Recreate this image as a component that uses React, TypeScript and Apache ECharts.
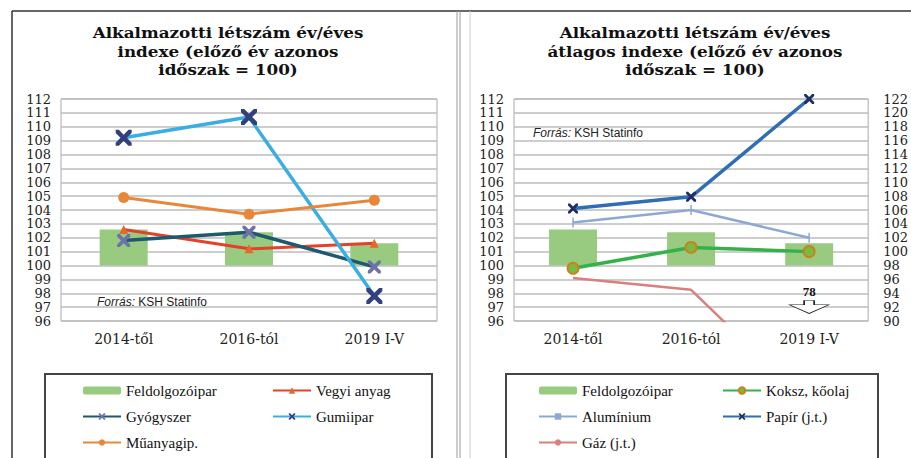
import React, { useEffect, useRef } from "react";
import * as echarts from "echarts";

const categories = ["2014-től", "2016-tól", "2019 I-V"];
const leftTicks = { min: 96, max: 112, interval: 1 };
const rightTicks = { min: 90, max: 122, interval: 2 };

// left chart
const feldolgozo = [102.6, 102.4, 101.6];
const vegyi = [102.6, 101.2, 101.6];
const gyogyszer = [101.8, 102.4, 99.9];
const gumi = [109.2, 110.7, 97.8];
const muanyag = [104.9, 103.7, 104.7];
// right chart
const koksz = [99.8, 101.3, 101.0];
const aluminium = [103.1, 104.0, 102.0];
const papir = [106.2, 107.9, 122.0]; // right axis
const gaz = [96.2, 94.5, 78]; // right axis
const gazLastLabel = "78";

const barBase = 100;

const titleLeft = "Alkalmazotti létszám év/éves\nindexe (előző év azonos\nidőszak = 100)";
const titleRight = "Alkalmazotti létszám év/éves\nátlagos indexe (előző év azonos\nidőszak = 100)";

const X_PATH =
  "path://M0,0 L2,0 L5,3 L8,0 L10,0 L10,2 L7,5 L10,8 L10,10 L8,10 L5,7 L2,10 L0,10 L0,8 L3,5 L0,2 Z";
const ARROW_PATH = "path://M14.5,0 L24.5,0 L24.5,4 L39,4 L19.5,12 L0,4 L14.5,4 Z";

export default function App() {
  const ref = useRef<HTMLDivElement>(null);
  useEffect(() => {
    document.body.style.margin = "0";
    const chart = echarts.init(ref.current!, null, { renderer: "svg" });

    const yLabel = {
      fontFamily: "DejaVu Serif", fontSize: 13, lineHeight: 13, color: "#222",
      showMinLabel: true, showMaxLabel: true, hideOverlap: false,
    };
    const xLabel = { fontFamily: "DejaVu Serif", fontSize: 14, color: "#222", margin: 11 };
    const split = { show: true, lineStyle: { color: "#bdbdbd", width: 1.5 } };

    const legendCommon = {
      orient: "vertical" as const,
      itemWidth: 38,
      itemHeight: 8,
      itemGap: 9,
      height: 90,
      selectedMode: false,
      textStyle: { fontFamily: "Liberation Serif", fontSize: 15, color: "#111", lineHeight: 17 },
    };

    const barSeries = (xi: number, yi: number, stack: string, baseName: string) => [
      {
        name: baseName,
        type: "bar",
        xAxisIndex: xi,
        yAxisIndex: yi,
        stack,
        barWidth: 48,
        itemStyle: { color: "transparent" },
        data: feldolgozo.map(() => barBase),
        silent: true,
      },
      {
        name: "Feldolgozóipar",
        type: "bar",
        xAxisIndex: xi,
        yAxisIndex: yi,
        stack,
        barWidth: 48,
        itemStyle: { color: "#98cb80" },
        data: feldolgozo.map((v) => +(v - barBase).toFixed(2)),
      },
    ];

    const option: any = {
      animation: false,
      backgroundColor: "#fff",
      grid: [
        { left: 61, right: 474, top: 99, bottom: 137, show: true, borderColor: "#aaa", borderWidth: 1 },
        { left: 514, right: 38, top: 99, bottom: 137, show: true, borderColor: "#aaa", borderWidth: 1 },
      ],
      xAxis: [0, 1].map((g) => ({
        type: "category",
        gridIndex: g,
        data: categories,
        axisLine: { show: false },
        axisTick: { show: false },
        axisLabel: xLabel,
      })),
      yAxis: [
        {
          type: "value", gridIndex: 0, ...leftTicks,
          axisLabel: { ...yLabel, margin: 10 }, splitLine: split,
          axisLine: { show: false }, axisTick: { show: false },
        },
        {
          type: "value", gridIndex: 1, ...leftTicks,
          axisLabel: { ...yLabel, margin: 10 }, splitLine: split,
          axisLine: { show: false }, axisTick: { show: false },
        },
        {
          type: "value", gridIndex: 1, position: "right", ...rightTicks,
          axisLabel: { ...yLabel, margin: 15 }, splitLine: { show: false },
          axisLine: { show: false }, axisTick: { show: false },
        },
      ],
      legend: [
        { ...legendCommon, left: 77, top: 377, data: ["Feldolgozóipar", "Gyógyszer", "Műanyagip."] },
        { ...legendCommon, left: 267, top: 377, data: ["Vegyi anyag", "Gumiipar"] },
        { ...legendCommon, left: 533, top: 377, data: ["Feldolgozóipar", "Alumínium", "Gáz (j.t.)"] },
        { ...legendCommon, left: 717, top: 377, data: ["Koksz, kőolaj", "Papír (j.t.)"] },
      ],
      series: [
        ...barSeries(0, 0, "L", "baseL"),
        {
          name: "Vegyi anyag", type: "line", xAxisIndex: 0, yAxisIndex: 0, data: vegyi,
          lineStyle: { color: "#e5402a", width: 3 }, itemStyle: { color: "#e3692c" },
          symbol: "triangle", symbolSize: 9,
        },
        {
          name: "Gyógyszer", type: "line", xAxisIndex: 0, yAxisIndex: 0, data: gyogyszer,
          lineStyle: { color: "#1e5a6e", width: 3.5 }, itemStyle: { color: "#6f72a8" },
          symbol: X_PATH, symbolSize: 13,
        },
        {
          name: "Gumiipar", type: "line", xAxisIndex: 0, yAxisIndex: 0, data: gumi,
          lineStyle: { color: "#3aaee2", width: 3.5 }, itemStyle: { color: "#33407e" },
          symbol: X_PATH, symbolSize: 16,
        },
        {
          name: "Műanyagip.", type: "line", xAxisIndex: 0, yAxisIndex: 0, data: muanyag,
          lineStyle: { color: "#e8873a", width: 3 }, itemStyle: { color: "#e8873a" },
          symbol: "circle", symbolSize: 11,
        },
        ...barSeries(1, 1, "R", "baseR"),
        {
          name: "Koksz, kőolaj", type: "line", xAxisIndex: 1, yAxisIndex: 1, data: koksz,
          lineStyle: { color: "#33b24c", width: 3.5 },
          itemStyle: { color: "#7bb845", borderColor: "#c9821c", borderWidth: 2 },
          symbol: "circle", symbolSize: 11,
        },
        {
          name: "Alumínium", type: "line", xAxisIndex: 1, yAxisIndex: 1, data: aluminium,
          lineStyle: { color: "#8ea8d6", width: 2.5 }, itemStyle: { color: "#8ea8d6" },
          symbol: "rect", symbolSize: [1.5, 10],
        },
        {
          name: "Papír (j.t.)", type: "line", xAxisIndex: 1, yAxisIndex: 2, data: papir,
          lineStyle: { color: "#2f6db5", width: 3.5 }, itemStyle: { color: "#1f2f66" },
          symbol: X_PATH, symbolSize: 10,
        },
        {
          name: "Gáz (j.t.)", type: "line", xAxisIndex: 1, yAxisIndex: 2, data: gaz,
          lineStyle: { color: "#d9807c", width: 2.5 }, itemStyle: { color: "#d9807c" },
          showSymbol: false, symbol: "none", clip: true,
          markPoint: {
            symbol: ARROW_PATH,
            symbolSize: [39, 13],
            symbolOffset: [0, -14],
            itemStyle: { color: "#fff", borderColor: "#222", borderWidth: 1 },
            label: {
              show: true, position: "top", distance: 2, formatter: gazLastLabel,
              fontFamily: "Liberation Serif", fontWeight: "bold", fontSize: 13, color: "#111",
            },
            data: [{ coord: [2, rightTicks.min], value: 78 }],
          },
        },
      ],
      graphic: [
        // panel frames
        { type: "line", shape: { x1: 12, y1: 11, x2: 911, y2: 11 }, style: { stroke: "#333", lineWidth: 1.5 } },
        { type: "line", shape: { x1: 12, y1: 11, x2: 12, y2: 458 }, style: { stroke: "#333", lineWidth: 1.5 } },
        { type: "line", shape: { x1: 457, y1: 11, x2: 457, y2: 458 }, style: { stroke: "#999", lineWidth: 1 } },
        { type: "line", shape: { x1: 460, y1: 11, x2: 460, y2: 458 }, style: { stroke: "#999", lineWidth: 1 } },
        { type: "line", shape: { x1: 470, y1: 11, x2: 470, y2: 458 }, style: { stroke: "#ccc", lineWidth: 1 } },
        // legend boxes
        { type: "rect", shape: { x: 45, y: 374, width: 387, height: 100 }, style: { fill: "#fff", stroke: "#444", lineWidth: 2 } },
        { type: "rect", shape: { x: 506, y: 374, width: 372, height: 100 }, style: { fill: "#fff", stroke: "#444", lineWidth: 2 } },
        // titles
        {
          type: "text", x: 228, y: 24, scaleX: 1.12,
          style: {
            text: titleLeft, align: "center", verticalAlign: "top",
            font: "bold 15px 'DejaVu Serif'", lineHeight: 18.5, fill: "#111",
          },
        },
        {
          type: "text", x: 695, y: 24, scaleX: 1.12,
          style: {
            text: titleRight, align: "center", verticalAlign: "top",
            font: "bold 15px 'DejaVu Serif'", lineHeight: 18.5, fill: "#111",
          },
        },
        // sources
        {
          type: "text", x: 97, y: 302, z: 10,
          style: {
            text: "{i|Forrás:} KSH Statinfo", verticalAlign: "middle",
            font: "12px 'Liberation Sans'", fill: "#222",
            rich: { i: { fontStyle: "italic", fontFamily: "Liberation Sans", fontSize: 12 } },
          },
        },
        {
          type: "text", x: 533, y: 133, z: 10,
          style: {
            text: "{i|Forrás:} KSH Statinfo", verticalAlign: "middle",
            font: "12px 'Liberation Sans'", fill: "#222",
            rich: { i: { fontStyle: "italic", fontFamily: "Liberation Sans", fontSize: 12 } },
          },
        },
      ],
    };
    chart.setOption(option);
    return () => chart.dispose();
  }, []);
  return <div ref={ref} style={{ width: 911, height: 458 }} />;
}
